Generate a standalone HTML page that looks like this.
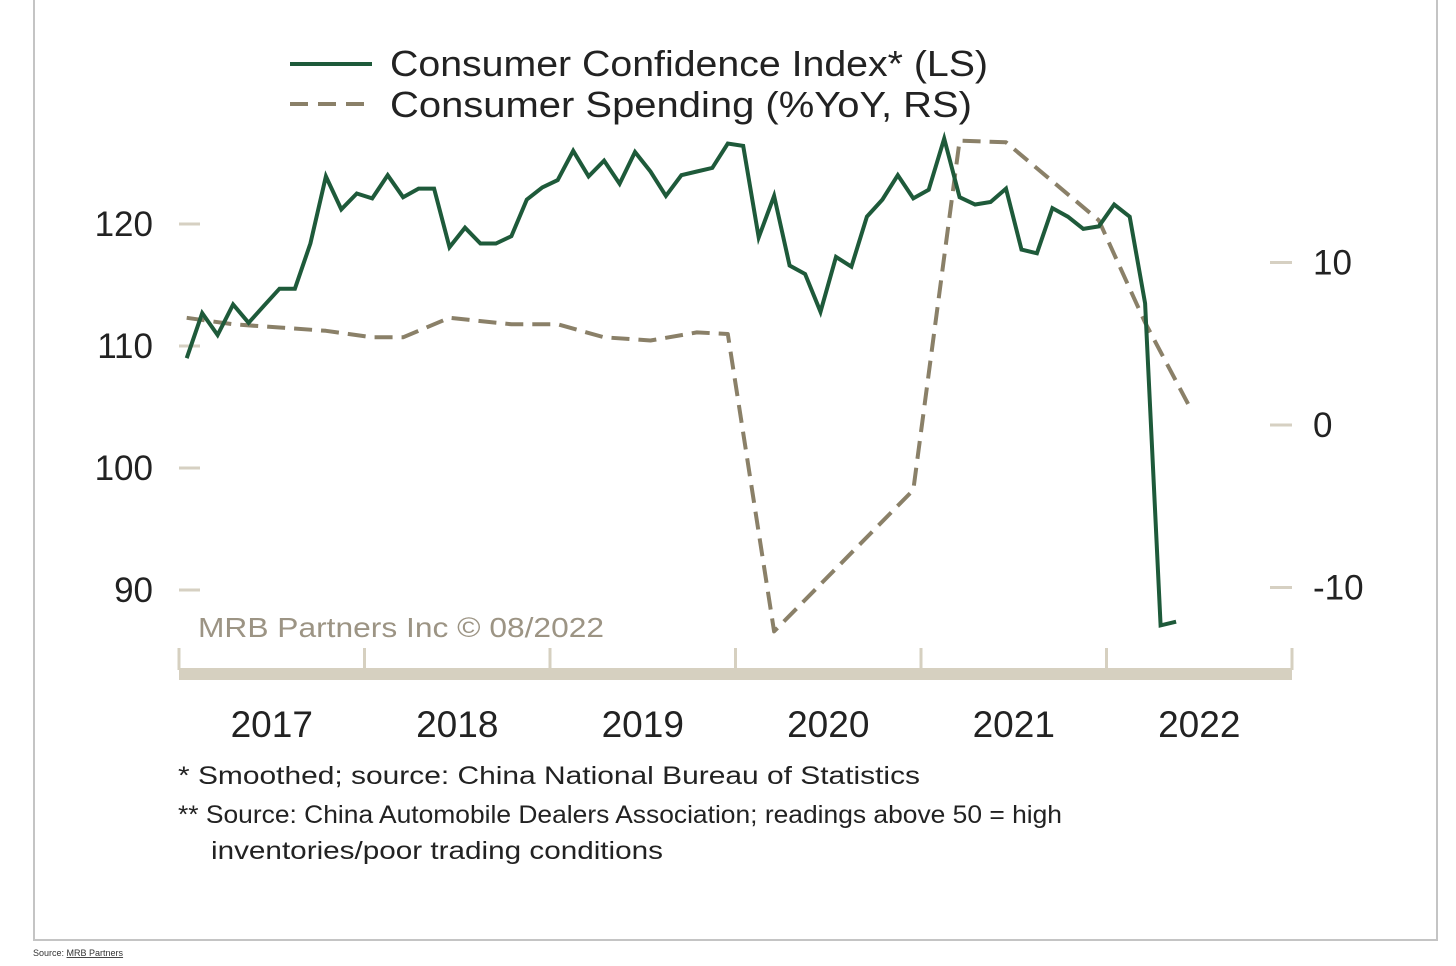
<!DOCTYPE html>
<html><head><meta charset="utf-8"><style>
body{margin:0;background:#fff;width:1456px;height:966px;overflow:hidden;font-family:"Liberation Sans",sans-serif}
</style></head><body>
<svg width="1456" height="966" viewBox="0 0 1456 966" style="position:absolute;left:0;top:0">
<rect x="34" y="-2" width="1403" height="942" fill="#fff" stroke="#c4c4c4" stroke-width="2"/>
<g id="legend">
<line x1="290" y1="64" x2="372" y2="64" stroke="#1e5a3a" stroke-width="4"/>
<text x="390" y="76" font-size="36" fill="#222" textLength="598" lengthAdjust="spacingAndGlyphs">Consumer Confidence Index* (LS)</text>
<line x1="290" y1="104" x2="372" y2="104" stroke="#8a8068" stroke-width="4" stroke-dasharray="18,10"/>
<text x="390" y="117" font-size="36" fill="#222" textLength="582" lengthAdjust="spacingAndGlyphs">Consumer Spending (%YoY, RS)</text>
</g>
<g id="axes"></g>
<g id="series"></g>
<text x="198" y="637" font-size="28" fill="#9c9484" textLength="406" lengthAdjust="spacingAndGlyphs">MRB Partners Inc © 08/2022</text>
<text x="178" y="784" font-size="25" fill="#222" textLength="742" lengthAdjust="spacingAndGlyphs">*  Smoothed; source: China National Bureau of Statistics</text>
<text x="178" y="823" font-size="25" fill="#222" textLength="884" lengthAdjust="spacingAndGlyphs">** Source: China Automobile Dealers Association; readings above 50 = high</text>
<text x="211" y="859" font-size="25" fill="#222" textLength="452" lengthAdjust="spacingAndGlyphs">inventories/poor trading conditions</text>
<text x="33" y="956" font-size="9" fill="#333">Source: <tspan text-decoration="underline">MRB Partners</tspan></text>
</svg>
<script>
const years=["2017","2018","2019","2020","2021","2022"];
const leftTicks=[90,100,110,120];
const rightTicks=[-10,0,10];
const confidence=[109.0,112.7,110.9,113.4,111.9,113.3,114.7,114.7,118.4,123.9,121.2,122.5,122.1,124.0,122.2,122.9,122.9,118.1,119.7,118.4,118.4,119.0,122.0,123.0,123.6,126.0,123.9,125.2,123.3,125.9,124.3,122.3,124.0,124.3,124.6,126.6,126.4,118.9,122.3,116.6,115.9,112.8,117.3,116.5,120.6,122.0,124.0,122.1,122.8,127.0,122.2,121.6,121.8,122.9,117.9,117.6,121.3,120.6,119.6,119.8,121.6,120.6,113.5,87.1,87.4];
const spendingMonths=[0,3,6,9,12,14,17,21,24,27,30,33,35,38,47,50,53,59,62,65];
const spendingValues=[6.6,6.2,6.0,5.8,5.4,5.4,6.6,6.2,6.2,5.4,5.2,5.7,5.6,-12.7,-4.0,17.5,17.4,12.6,6.3,0.9];
const NS="http://www.w3.org/2000/svg";
const x0=179,yearW=185.5,monthW=yearW/12;
const xm=m=>x0+(m+0.5)*monthW;
const yL=v=>346-(v-110)*12.2;
const yR=v=>425-v*16.25;
function mk(tag,attrs,parent,text){const e=document.createElementNS(NS,tag);for(const k in attrs)e.setAttribute(k,attrs[k]);if(text!==undefined)e.textContent=text;parent.appendChild(e);return e;}
const axes=document.getElementById('axes'),series=document.getElementById('series');
leftTicks.forEach(v=>{
 const t=mk('line',{x1:179,x2:200,y1:yL(v),y2:yL(v),stroke:'#d6d0c2','stroke-width':3},axes);
 
 
 const l=mk('text',{x:153,y:yL(v)+12,'font-size':35,fill:'#222','text-anchor':'end'},axes,String(v));
 
 
});
rightTicks.forEach(v=>{
 const t=mk('line',{x1:1270,x2:1292,y1:yR(v),y2:yR(v),stroke:'#d6d0c2','stroke-width':3},axes);
 
 
 const l=mk('text',{x:1313,y:yR(v)+12,'font-size':35,fill:'#222'},axes,String(v));
 
 
});
const band=mk('rect',{x:179,y:668,width:1113,height:12,fill:'#d6d0c0'},axes);


for(let i=0;i<=years.length;i++){
 const x=x0+i*yearW;
 const t=mk('line',{x1:x,x2:x,y1:648,y2:670,stroke:'#d6d0c0','stroke-width':3},axes);
 
 
}
years.forEach((y,i)=>{
 const l=mk('text',{x:x0+(i+0.5)*yearW,y:737,'font-size':37,fill:'#222','text-anchor':'middle'},axes,y);
 
 
});
const sp=mk('polyline',{points:spendingMonths.map((m,i)=>xm(m).toFixed(1)+','+yR(spendingValues[i]).toFixed(1)).join(' '),fill:'none',stroke:'#8a8068','stroke-width':4,'stroke-dasharray':'18,9','stroke-linejoin':'round'},series);


const cc=mk('polyline',{points:confidence.map((v,i)=>xm(i).toFixed(1)+','+yL(v).toFixed(1)).join(' '),fill:'none',stroke:'#1e5a3a','stroke-width':4,'stroke-linejoin':'miter'},series);


</script>
</body></html>
